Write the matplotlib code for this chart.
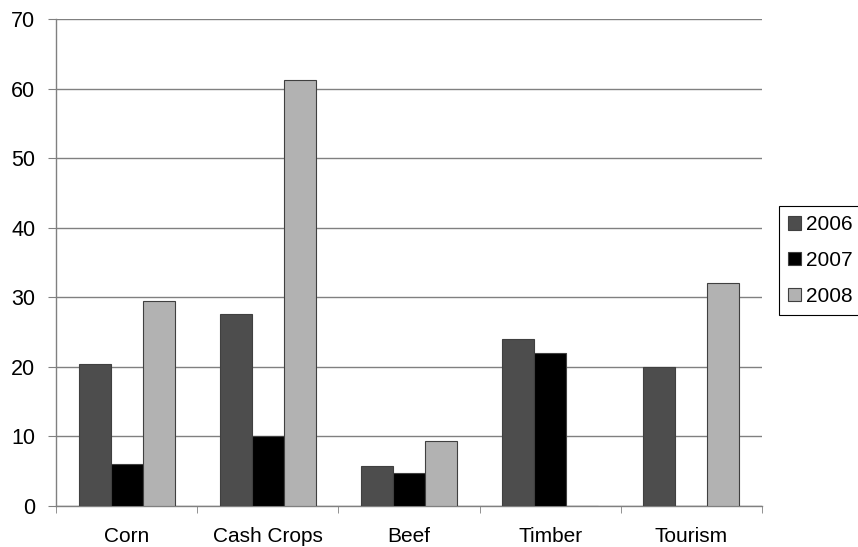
import numpy as np
from matplotlib import pyplot as plt

plt.rcParams['font.family'] = ['Liberation Sans', 'DejaVu Sans']

categories = ['Corn', 'Cash Crops', 'Beef', 'Timber', 'Tourism']
years = ['2006', '2007', '2008']
values_2006 = [20.4, 27.6, 5.8, 24.0, 20.0]
values_2007 = [6.0, 10.1, 4.8, 22.0, 0.0]
values_2008 = [29.5, 61.2, 9.4, 0.0, 32.0]
colors = ['#4d4d4d', '#000000', '#b2b2b2']

series = [values_2006, values_2007, values_2008]

fig = plt.figure(figsize=(8.58, 5.47), dpi=100)
ax = fig.add_axes([0.0653, 0.075, 0.8228, 0.89])

x = np.arange(len(categories))
width = 0.227
for i, (vals, col, yr) in enumerate(zip(series, colors, years)):
    ax.bar(x + (i - 1) * width, vals, width, color=col, edgecolor='#404040',
           linewidth=0.8, label=yr, zorder=3)

ax.set_xlim(-0.5, len(categories) - 0.5)
ax.set_ylim(0, 70)
ax.set_yticks(range(0, 71, 10))
ax.yaxis.grid(True, color='#808080', linewidth=1.0, zorder=0)

# category labels in the middle, tick marks on the boundaries
ax.set_xticks(x)
ax.set_xticklabels(categories, fontsize=15)
ax.tick_params(axis='x', length=0, pad=15)
ax.set_xticks(np.arange(len(categories) + 1) - 0.5, minor=True)
ax.tick_params(axis='x', which='minor', direction='out', length=5, color='#808080')
ax.tick_params(axis='y', direction='out', length=6, color='#808080', labelsize=15.5, pad=9)

for side in ['top', 'right']:
    ax.spines[side].set_visible(False)
for side in ['left', 'bottom']:
    ax.spines[side].set_color('#808080')
    ax.spines[side].set_linewidth(1.0)

leg = fig.legend(loc='upper left', bbox_to_anchor=(779 / 858, 1 - 206 / 547),
                 fontsize=15, handlelength=0.6, handleheight=0.6, handletextpad=0.25,
                 labelspacing=0.8, borderpad=0.45, borderaxespad=0, fancybox=False,
                 edgecolor='black', framealpha=1)
leg.get_frame().set_linewidth(0.8)

fig.savefig('out.png', dpi=100)
